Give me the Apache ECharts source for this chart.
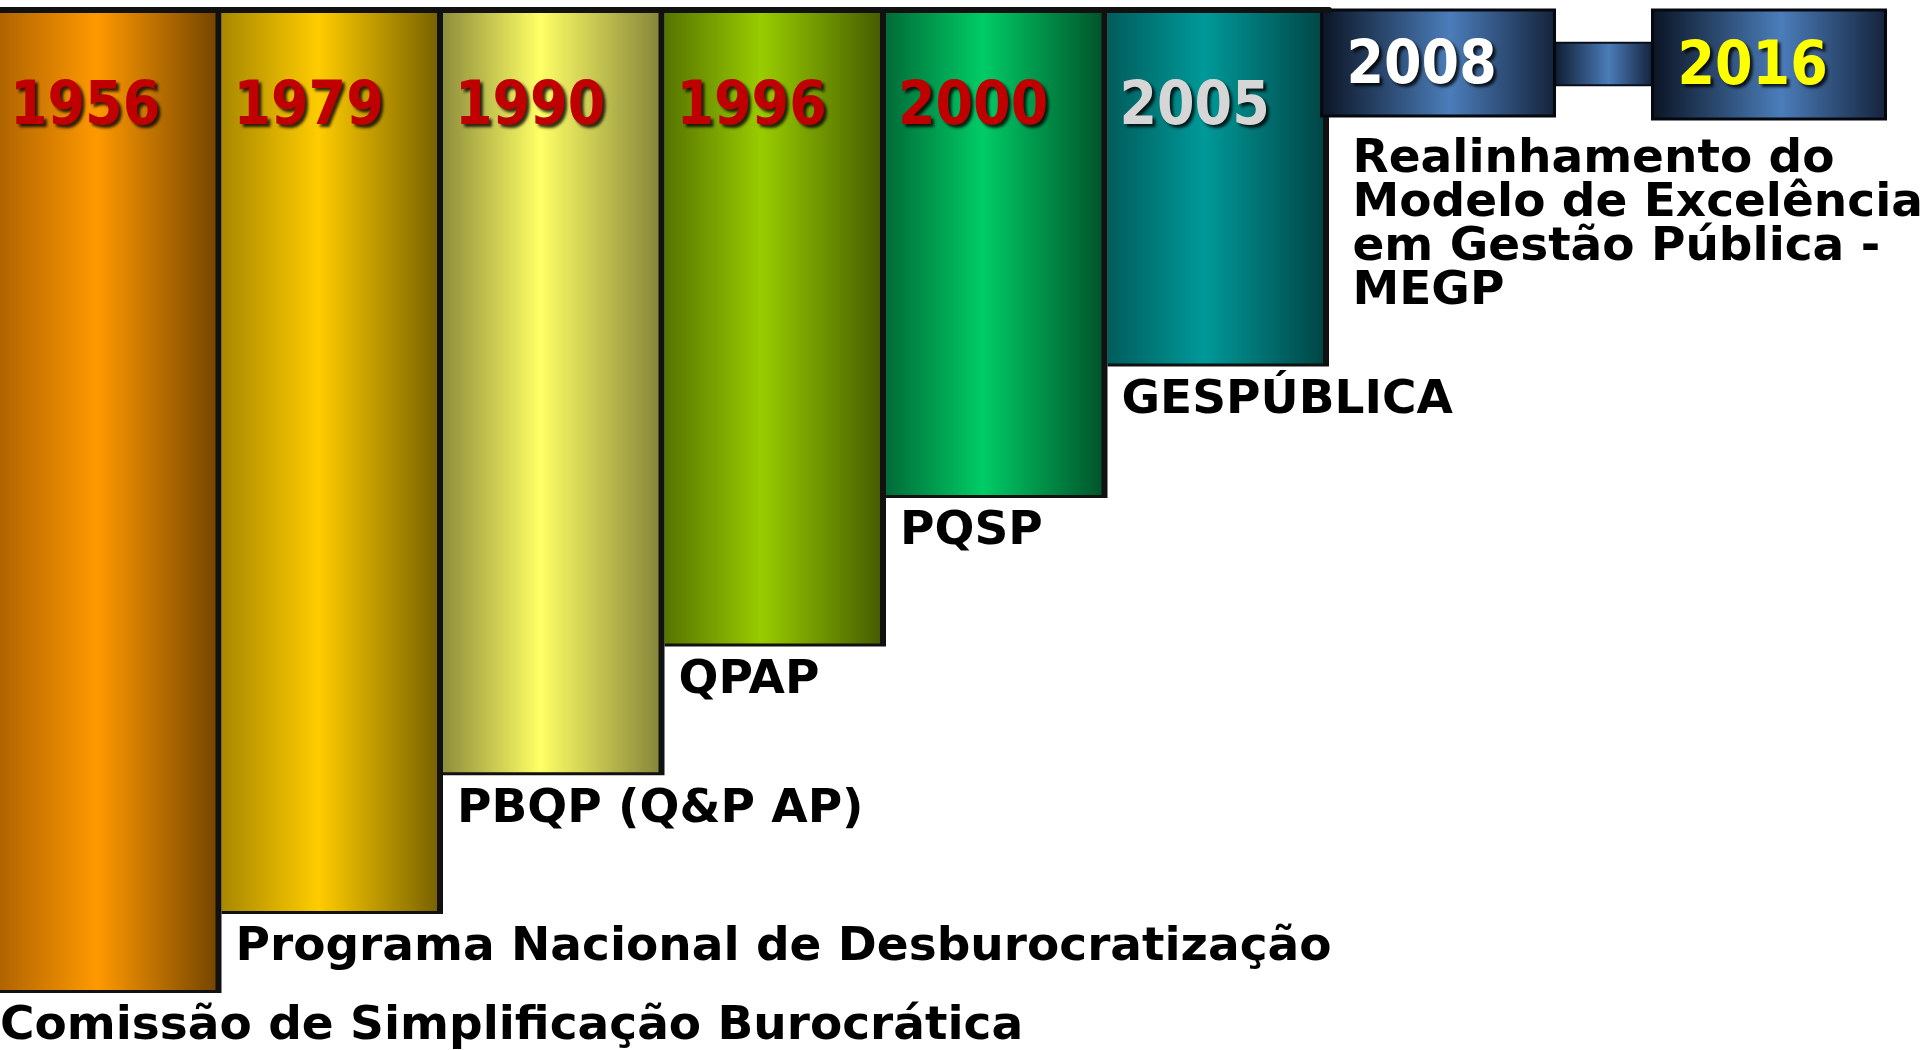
<!DOCTYPE html>
<html>
<head>
<meta charset="utf-8">
<script src="https://cdn.jsdelivr.net/npm/echarts/dist/echarts.min.js"></script>
<style>
html,body{margin:0;padding:0;background:#ffffff;}
#chart{width:1920px;height:1050px;}
</style>
</head>
<body>
<div id="chart"></div>
<script>
// ---- data ----
const years = ['1956', '1979', '1990', '1996', '2000', '2005'];
const programs = [
  'Comissão de Simplificação Burocrática',
  'Programa Nacional de Desburocratização',
  'PBQP (Q&P AP)',
  'QPAP',
  'PQSP',
  'GESPÚBLICA'
];
const barLengths = [99, 91, 77, 64, 49, 35.7];
const laterYears = ['2008', '2016'];
const laterLengths = [10.7, 11.0];
const laterPrograms = ['Realinhamento do\nModelo de Excelência\nem Gestão Pública -\nMEGP', ''];

// ---- styles ----
const barPalette = [
  ['#B06400', '#FF9900', '#774600'],
  ['#A88800', '#FFCC00', '#7A6300'],
  ['#8E8E3C', '#FFFF66', '#87873C'],
  ['#567400', '#99CC00', '#465E00'],
  ['#006C38', '#00CC66', '#00552B'],
  ['#005C5C', '#009999', '#004646']
];
const yearColors = ['#C00000', '#C00000', '#C00000', '#C00000', '#C00000', '#D6D6D6'];
const laterYearColors = ['#FFFFFF', '#FFFF00'];
const yearFont = 'bold 60px "DejaVu Sans Condensed", "DejaVu Sans", sans-serif';
const progFont = 'bold 47px "DejaVu Sans", sans-serif';

function hGrad(c) {
  return new echarts.graphic.LinearGradient(0, 0, 1, 0, [
    { offset: 0, color: c[0] },
    { offset: 0.45, color: c[1] },
    { offset: 1, color: c[2] }
  ]);
}

function renderBar(params, api) {
  const i = params.dataIndex;
  const c = api.value(0);
  const topPt = api.coord([c, 0]);
  const botPt = api.coord([c, api.value(1)]);
  const w = api.size([1, 0])[0];
  const x0 = topPt[0] - w / 2;
  const h = botPt[1] - topPt[1];
  return {
    type: 'group',
    children: [
      { type: 'rect', shape: { x: x0, y: topPt[1], width: w, height: h + 3 },
        style: { fill: '#111111' } },
      { type: 'rect', shape: { x: x0, y: topPt[1], width: w - 6, height: h },
        style: { fill: hGrad(barPalette[i]) } },
      { type: 'text',
        style: { text: years[i], x: x0 + (i === 0 ? 10 : 12), y: topPt[1] + 98, font: yearFont,
          fill: yearColors[i], align: 'left', verticalAlign: 'middle',
          textShadowColor: 'rgba(0,0,0,0.8)', textShadowOffsetX: 3, textShadowOffsetY: 3, textShadowBlur: 3 } },
      { type: 'text',
        style: { text: programs[i], x: x0 + (i === 0 ? 0 : 14), y: botPt[1] + 37, font: progFont,
          fill: '#000000', align: 'left', verticalAlign: 'middle' } }
    ]
  };
}

function renderBox(params, api) {
  const i = params.dataIndex;
  const c = api.value(0);
  const topPt = api.coord([c, 0]);
  const botPt = api.coord([c, api.value(1)]);
  const cw = api.size([1, 0])[0];
  const bw = cw * 0.704;
  const x0 = topPt[0] - bw / 2;
  const h = botPt[1] - topPt[1];
  const boxFill = new echarts.graphic.LinearGradient(0, 0, 1, 0, [
    { offset: 0, color: '#0A1322' },
    { offset: 0.55, color: '#4B7DBA' },
    { offset: 1, color: '#14223A' }
  ]);
  const children = [];
  if (i < laterYears.length - 1) {
    children.push({ type: 'rect',
      shape: { x: x0 + bw, y: topPt[1] + h * 0.31, width: cw - bw, height: h * 0.40 },
      style: { fill: new echarts.graphic.LinearGradient(0, 0, 1, 0, [
        { offset: 0, color: '#0E1A2E' },
        { offset: 0.55, color: '#4A7CB8' },
        { offset: 1, color: '#13213A' }
      ]), stroke: '#0A0F18', lineWidth: 2 } });
  }
  children.push({ type: 'rect', shape: { x: x0, y: topPt[1], width: bw, height: h },
    style: { fill: boxFill, stroke: '#05080E', lineWidth: 3 } });
  children.push({ type: 'text',
    style: { text: laterYears[i], x: x0 + 25, y: topPt[1] + h / 2 + 4, font: yearFont,
      fill: laterYearColors[i], align: 'left', verticalAlign: 'middle',
      textShadowColor: 'rgba(0,0,0,0.8)', textShadowOffsetX: 3, textShadowOffsetY: 3, textShadowBlur: 3 } });
  if (laterPrograms[i]) {
    children.push({ type: 'text',
      style: { text: laterPrograms[i], x: x0 + 31, y: botPt[1] + 22, font: progFont,
        lineHeight: 44, fill: '#000000', align: 'left', verticalAlign: 'top' } });
  }
  return { type: 'group', children: children };
}

const chart = echarts.init(document.getElementById('chart'), null, { renderer: 'canvas' });
chart.setOption({
  animation: false,
  backgroundColor: '#ffffff',
  grid: [
    { left: 0, width: 1329, top: 10, bottom: 50 },
    { left: 1438, width: 331, top: 10, bottom: 50 }
  ],
  xAxis: [
    { type: 'category', gridIndex: 0, data: years, position: 'top', z: 10,
      axisLine: { show: true, onZero: false, lineStyle: { color: '#111111', width: 6 } },
      axisTick: { show: false }, axisLabel: { show: false }, splitLine: { show: false } },
    { type: 'category', gridIndex: 1, data: laterYears, boundaryGap: false, show: false }
  ],
  yAxis: [
    { type: 'value', gridIndex: 0, min: 0, max: 100, inverse: true, show: false },
    { type: 'value', gridIndex: 1, min: 0, max: 100, inverse: true, show: false }
  ],
  series: [
    { type: 'custom', xAxisIndex: 0, yAxisIndex: 0, clip: false,
      renderItem: renderBar, data: barLengths.map((v, i) => [i, v]) },
    { type: 'custom', xAxisIndex: 1, yAxisIndex: 1, clip: false, z: 3,
      renderItem: renderBox, data: laterLengths.map((v, i) => [i, v]) }
  ]
});
</script>
</body>
</html>
